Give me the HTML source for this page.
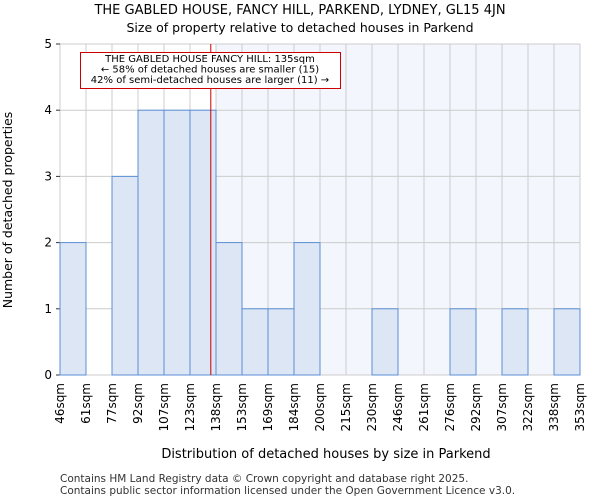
<!DOCTYPE html>
<html><head><meta charset="utf-8"><style>
body{margin:0;background:#fff;font-family:"DejaVu Sans","Liberation Sans",sans-serif}
svg text{font-family:"DejaVu Sans","Liberation Sans",sans-serif}
</style></head><body>
<svg id="c" width="600" height="500">
<text x="300" y="14" text-anchor="middle" font-size="13">THE GABLED HOUSE, FANCY HILL, PARKEND, LYDNEY, GL15 4JN</text>
<text x="300" y="32" text-anchor="middle" font-size="12.5">Size of property relative to detached houses in Parkend</text>
<g id="plot"></g>
<text x="326" y="458" text-anchor="middle" font-size="13">Distribution of detached houses by size in Parkend</text>
<text transform="translate(12,210) rotate(-90)" text-anchor="middle" font-size="12.5">Number of detached properties</text>
<text x="60" y="482" font-size="10.5" fill="#333">Contains HM Land Registry data © Crown copyright and database right 2025.</text>
<text x="60" y="494" font-size="10.5" fill="#333">Contains public sector information licensed under the Open Government Licence v3.0.</text>
</svg>
<script>
const edges=[46,61,77,92,107,123,138,153,169,184,200,215,230,246,261,276,292,307,322,338,353];
const tickLabels=["46sqm","61sqm","77sqm","92sqm","107sqm","123sqm","138sqm","153sqm","169sqm","184sqm","200sqm","215sqm","230sqm","246sqm","261sqm","276sqm","292sqm","307sqm","322sqm","338sqm","353sqm"];
const counts=[2,0,3,4,4,4,2,1,1,2,0,0,1,0,0,1,0,1,0,1];
const yTicks=[0,1,2,3,4,5];
const propertySize=135;
const highlightStart=6;
const NS="http://www.w3.org/2000/svg";
const L=60,R=580,T=44,B=375,yMax=5;
const xb=i=>L+(R-L)*i/counts.length;
const xv=v=>{let i=0;while(i<edges.length-2&&v>edges[i+1])i++;return xb(i)+(v-edges[i])/(edges[i+1]-edges[i])*(xb(i+1)-xb(i));};
const y=v=>B-(B-T)*v/yMax;
const g=document.getElementById('plot');
function mk(t,a){const e=document.createElementNS(NS,t);for(const k in a)e.setAttribute(k,a[k]);g.appendChild(e);return e;}
let e=mk('rect',{x:xb(highlightStart),y:T,width:R-xb(highlightStart),height:B-T,fill:'#f3f6fd'});


for(let i=0;i<=counts.length;i++){e=mk('line',{x1:xb(i),x2:xb(i),y1:T,y2:B,stroke:'#ccc','stroke-width':1});

}
yTicks.forEach(v=>{e=mk('line',{x1:L,x2:R,y1:y(v),y2:y(v),stroke:'#ccc','stroke-width':1});


e=mk('text',{x:L-8,y:y(v)+4,'text-anchor':'end','font-size':12});e.textContent=v;


e=mk('line',{x1:L-4,x2:L,y1:y(v),y2:y(v),stroke:'#333'});

});
counts.forEach((c,i)=>{if(!c)return;e=mk('rect',{x:xb(i),y:y(c),width:xb(i+1)-xb(i),height:B-y(c),fill:'#dce6f4',stroke:'#5b8fd6','stroke-width':1});

});
tickLabels.forEach((t,i)=>{const x=xb(i);e=mk('text',{transform:`translate(${x+4},${B+8}) rotate(-90)`,'text-anchor':'end','font-size':12});e.textContent=t;

});
e=mk('line',{x1:xv(propertySize),x2:xv(propertySize),y1:T,y2:B,stroke:'#c00','stroke-width':1});


e=mk('rect',{x:80.5,y:52.5,width:260,height:36,fill:'#fff',stroke:'#c00','stroke-width':1});


["THE GABLED HOUSE FANCY HILL: 135sqm","← 58% of detached houses are smaller (15)","42% of semi-detached houses are larger (11) →"].forEach((t,i)=>{e=mk('text',{x:210,y:62+i*10.5,'text-anchor':'middle','font-size':10});e.textContent=t;

});
</script>
</body></html>
